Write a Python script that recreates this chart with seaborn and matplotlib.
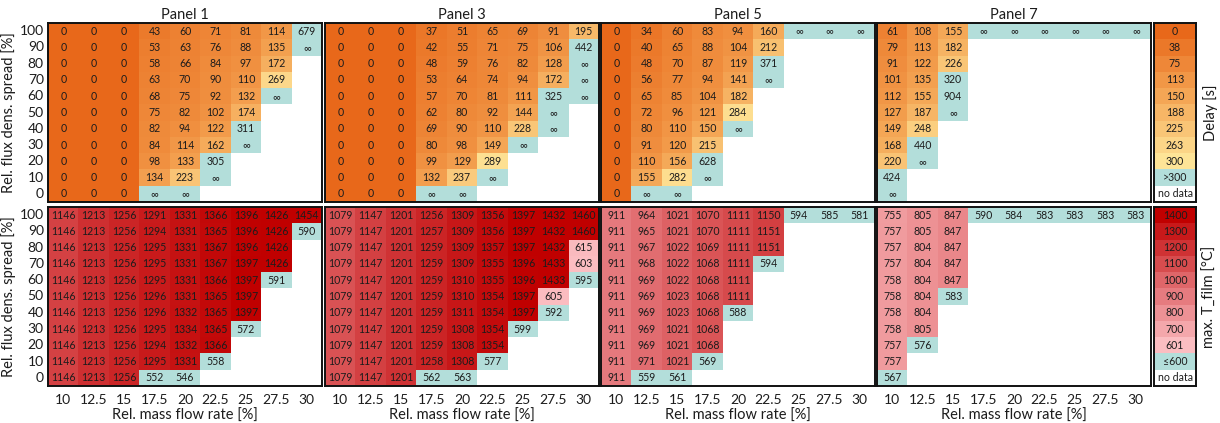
import numpy as np
import matplotlib
matplotlib.use("Agg")
import matplotlib.pyplot as plt
from matplotlib.colors import LinearSegmentedColormap, ListedColormap
import seaborn as sns

sns.set_theme(style="white")
plt.rcParams['font.family'] = ['Lato', 'DejaVu Sans']

INF = np.inf
NA = np.nan

mass_flow = ["10", "12.5", "15", "17.5", "20", "22.5", "25", "27.5", "30"]
flux_spread = ["100", "90", "80", "70", "60", "50", "40", "30", "20", "10", "0"]
panel_titles = ["Panel 1", "Panel 3", "Panel 5", "Panel 7"]

# Delay [s]; inf = never reached, nan = no data
delay_p1 = [
    [0, 0, 0, 43, 60, 71, 81, 114, 679],
    [0, 0, 0, 53, 63, 76, 88, 135, INF],
    [0, 0, 0, 58, 66, 84, 97, 172, NA],
    [0, 0, 0, 63, 70, 90, 110, 269, NA],
    [0, 0, 0, 68, 75, 92, 132, INF, NA],
    [0, 0, 0, 75, 82, 102, 174, NA, NA],
    [0, 0, 0, 82, 94, 122, 311, NA, NA],
    [0, 0, 0, 84, 114, 162, INF, NA, NA],
    [0, 0, 0, 98, 133, 305, NA, NA, NA],
    [0, 0, 0, 134, 223, INF, NA, NA, NA],
    [0, 0, 0, INF, INF, NA, NA, NA, NA],
]
delay_p3 = [
    [0, 0, 0, 37, 51, 65, 69, 91, 195],
    [0, 0, 0, 42, 55, 71, 75, 106, 442],
    [0, 0, 0, 48, 59, 76, 82, 128, INF],
    [0, 0, 0, 53, 64, 74, 94, 172, INF],
    [0, 0, 0, 57, 70, 81, 111, 325, INF],
    [0, 0, 0, 62, 80, 92, 144, INF, NA],
    [0, 0, 0, 69, 90, 110, 228, INF, NA],
    [0, 0, 0, 80, 98, 149, INF, NA, NA],
    [0, 0, 0, 99, 129, 289, NA, NA, NA],
    [0, 0, 0, 132, 237, INF, NA, NA, NA],
    [0, 0, 0, INF, INF, NA, NA, NA, NA],
]
delay_p5 = [
    [0, 34, 60, 83, 94, 160, INF, INF, INF],
    [0, 40, 65, 88, 104, 212, NA, NA, NA],
    [0, 48, 70, 87, 119, 371, NA, NA, NA],
    [0, 56, 77, 94, 141, INF, NA, NA, NA],
    [0, 65, 85, 104, 182, NA, NA, NA, NA],
    [0, 72, 96, 121, 284, NA, NA, NA, NA],
    [0, 80, 110, 150, INF, NA, NA, NA, NA],
    [0, 91, 120, 215, NA, NA, NA, NA, NA],
    [0, 110, 156, 628, NA, NA, NA, NA, NA],
    [0, 155, 282, INF, NA, NA, NA, NA, NA],
    [0, INF, INF, NA, NA, NA, NA, NA, NA],
]
delay_p7 = [
    [61, 108, 155, INF, INF, INF, INF, INF, INF],
    [79, 113, 182, NA, NA, NA, NA, NA, NA],
    [91, 122, 226, NA, NA, NA, NA, NA, NA],
    [101, 135, 320, NA, NA, NA, NA, NA, NA],
    [112, 155, 904, NA, NA, NA, NA, NA, NA],
    [127, 187, INF, NA, NA, NA, NA, NA, NA],
    [149, 248, NA, NA, NA, NA, NA, NA, NA],
    [168, 440, NA, NA, NA, NA, NA, NA, NA],
    [220, INF, NA, NA, NA, NA, NA, NA, NA],
    [424, NA, NA, NA, NA, NA, NA, NA, NA],
    [INF, NA, NA, NA, NA, NA, NA, NA, NA],
]

# Maximum film temperature [°C]
tfilm_p1 = [
    [1146, 1213, 1256, 1291, 1331, 1366, 1396, 1426, 1454],
    [1146, 1213, 1256, 1294, 1331, 1365, 1396, 1426, 590],
    [1146, 1213, 1256, 1295, 1331, 1367, 1396, 1426, NA],
    [1146, 1213, 1256, 1295, 1331, 1367, 1397, 1426, NA],
    [1146, 1213, 1256, 1295, 1331, 1366, 1397, 591, NA],
    [1146, 1213, 1256, 1296, 1331, 1365, 1397, NA, NA],
    [1146, 1213, 1256, 1296, 1332, 1365, 1397, NA, NA],
    [1146, 1213, 1256, 1295, 1334, 1365, 572, NA, NA],
    [1146, 1213, 1256, 1294, 1332, 1366, NA, NA, NA],
    [1146, 1213, 1256, 1295, 1331, 558, NA, NA, NA],
    [1146, 1213, 1256, 552, 546, NA, NA, NA, NA],
]
tfilm_p3 = [
    [1079, 1147, 1201, 1256, 1309, 1356, 1397, 1432, 1460],
    [1079, 1147, 1201, 1257, 1309, 1356, 1397, 1432, 1460],
    [1079, 1147, 1201, 1259, 1309, 1357, 1397, 1432, 615],
    [1079, 1147, 1201, 1259, 1309, 1355, 1396, 1433, 603],
    [1079, 1147, 1201, 1259, 1310, 1355, 1396, 1433, 595],
    [1079, 1147, 1201, 1259, 1310, 1354, 1397, 605, NA],
    [1079, 1147, 1201, 1259, 1311, 1354, 1397, 592, NA],
    [1079, 1147, 1201, 1259, 1308, 1354, 599, NA, NA],
    [1079, 1147, 1201, 1259, 1308, 1354, NA, NA, NA],
    [1079, 1147, 1201, 1258, 1308, 577, NA, NA, NA],
    [1079, 1147, 1201, 562, 563, NA, NA, NA, NA],
]
tfilm_p5 = [
    [911, 964, 1021, 1070, 1111, 1150, 594, 585, 581],
    [911, 965, 1021, 1070, 1111, 1151, NA, NA, NA],
    [911, 967, 1022, 1069, 1111, 1151, NA, NA, NA],
    [911, 968, 1022, 1068, 1111, 594, NA, NA, NA],
    [911, 969, 1022, 1068, 1111, NA, NA, NA, NA],
    [911, 969, 1023, 1068, 1111, NA, NA, NA, NA],
    [911, 969, 1023, 1068, 588, NA, NA, NA, NA],
    [911, 969, 1021, 1068, NA, NA, NA, NA, NA],
    [911, 969, 1021, 1068, NA, NA, NA, NA, NA],
    [911, 971, 1021, 569, NA, NA, NA, NA, NA],
    [911, 559, 561, NA, NA, NA, NA, NA, NA],
]
tfilm_p7 = [
    [755, 805, 847, 590, 584, 583, 583, 583, 583],
    [757, 805, 847, NA, NA, NA, NA, NA, NA],
    [757, 804, 847, NA, NA, NA, NA, NA, NA],
    [757, 804, 847, NA, NA, NA, NA, NA, NA],
    [758, 804, 847, NA, NA, NA, NA, NA, NA],
    [758, 804, 583, NA, NA, NA, NA, NA, NA],
    [758, 804, NA, NA, NA, NA, NA, NA, NA],
    [758, 805, NA, NA, NA, NA, NA, NA, NA],
    [757, 576, NA, NA, NA, NA, NA, NA, NA],
    [757, NA, NA, NA, NA, NA, NA, NA, NA],
    [567, NA, NA, NA, NA, NA, NA, NA, NA],
]

delay_legend_values = [0, 38, 75, 113, 150, 188, 225, 263, 300]
delay_legend_extra = [">300", "no data"]
tfilm_legend_values = [1400, 1300, 1200, 1100, 1000, 900, 800, 700, 601]
tfilm_legend_extra = ["\u2264600", "no data"]

# Colour scales
delay_cmap = LinearSegmentedColormap.from_list(
    "delay", [(0.0, "#E8681A"), (0.5, "#F4A655"), (1.0, "#FEE497")])
tfilm_cmap = LinearSegmentedColormap.from_list(
    "tfilm", [(0.0, "#FBBDC1"), (0.5, "#DF6669"), (1.0, "#C00000")])
teal_cmap = ListedColormap(["#B3DEDA"])
white_cmap = ListedColormap(["#FFFFFF"])

TXT = "#1c1c1c"
ANNOT = dict(fontsize=7.6, color=TXT)

W, H = 1220, 423
fig = plt.figure(figsize=(W / 100, H / 100), dpi=100)


def box(x, y, w, h):
    return [x / W, 1 - (y + h) / H, w / W, h / H]


panel_x = [48, 325, 601, 877]
panel_w = 274
row_y = [23, 207]
row_h = 179
leg_x, leg_w = 1154, 42


def frame(ax):
    for s in ax.spines.values():
        s.set_visible(True)
        s.set_color("#111111")
        s.set_linewidth(1.4)
    ax.tick_params(length=0)
    ax.tick_params(axis="x", pad=6)
    ax.tick_params(axis="y", pad=3)


def draw_panel(ax, data, vmin, vmax, cmap, special_fn, label_fn):
    arr = np.array(data, dtype=float)
    empty = np.isnan(arr)
    special = ~empty & special_fn(arr)
    normal = ~empty & ~special
    labels = np.empty(arr.shape, dtype=object)
    for i in range(arr.shape[0]):
        for j in range(arr.shape[1]):
            labels[i, j] = "" if empty[i, j] else label_fn(arr[i, j])
    plain = np.where(normal, arr, 0.0)
    sns.heatmap(plain, mask=~normal, cmap=cmap, vmin=vmin, vmax=vmax,
                annot=labels, fmt="", annot_kws=ANNOT, cbar=False, ax=ax,
                xticklabels=mass_flow, yticklabels=flux_spread)
    sns.heatmap(np.zeros(arr.shape), mask=~special, cmap=teal_cmap,
                annot=labels, fmt="", annot_kws=ANNOT, cbar=False, ax=ax,
                xticklabels=mass_flow, yticklabels=flux_spread)
    frame(ax)


def delay_label(v):
    return "\u221e" if np.isinf(v) else f"{int(v)}"


def tfilm_label(v):
    return f"{int(v)}"


delay_sets = [delay_p1, delay_p3, delay_p5, delay_p7]
tfilm_sets = [tfilm_p1, tfilm_p3, tfilm_p5, tfilm_p7]

for k in range(4):
    ax_t = fig.add_axes(box(panel_x[k], row_y[0], panel_w, row_h))
    draw_panel(ax_t, delay_sets[k], 0, 300, delay_cmap,
               lambda a: np.isinf(a) | (a > 300), delay_label)
    ax_t.set_title(panel_titles[k], fontsize=10.5, color=TXT, pad=3)
    ax_t.set_xticklabels([])
    ax_t.set_xlabel("")

    ax_b = fig.add_axes(box(panel_x[k], row_y[1], panel_w, row_h))
    draw_panel(ax_b, tfilm_sets[k], 600, 1400, tfilm_cmap,
               lambda a: a <= 600, tfilm_label)
    ax_b.set_xticklabels(mass_flow, rotation=0, fontsize=10, color=TXT)
    ax_b.set_xlabel("Rel. mass flow rate [%]", fontsize=10.5, color=TXT,
                    labelpad=2)

    for ax in (ax_t, ax_b):
        if k == 0:
            ax.set_yticklabels(flux_spread, rotation=0, fontsize=10, color=TXT)
            ax.set_ylabel("Rel. flux dens. spread [%]", fontsize=10.5,
                          color=TXT, labelpad=3)
        else:
            ax.set_yticklabels([])
            ax.set_ylabel("")


def draw_legend(ax, values, extra, vmin, vmax, cmap, title):
    vals = np.array(list(values) + [NA, NA], dtype=float).reshape(-1, 1)
    labels = np.array([str(v) for v in values] + extra, dtype=object).reshape(-1, 1)
    n = len(values)
    idx = np.arange(len(vals)).reshape(-1, 1)
    sns.heatmap(np.nan_to_num(vals), mask=idx >= n, cmap=cmap, vmin=vmin,
                vmax=vmax, annot=labels, fmt="", annot_kws=ANNOT, cbar=False,
                ax=ax, xticklabels=False, yticklabels=False)
    sns.heatmap(np.zeros(vals.shape), mask=idx != n, cmap=teal_cmap,
                annot=labels, fmt="", annot_kws=ANNOT, cbar=False, ax=ax,
                xticklabels=False, yticklabels=False)
    sns.heatmap(np.zeros(vals.shape), mask=idx != n + 1, cmap=white_cmap,
                annot=labels, fmt="", annot_kws=ANNOT, cbar=False, ax=ax,
                xticklabels=False, yticklabels=False)
    frame(ax)
    ax.yaxis.set_label_position("right")
    ax.set_ylabel(title, fontsize=10.5, color=TXT, labelpad=5)


ax_l1 = fig.add_axes(box(leg_x, row_y[0], leg_w, row_h))
draw_legend(ax_l1, delay_legend_values, delay_legend_extra, 0, 300,
            delay_cmap, "Delay [s]")
ax_l2 = fig.add_axes(box(leg_x, row_y[1], leg_w, row_h))
draw_legend(ax_l2, tfilm_legend_values, tfilm_legend_extra, 600, 1400,
            tfilm_cmap, "max. T_film [°C]")

fig.savefig("out.png", dpi=100, facecolor="white")
